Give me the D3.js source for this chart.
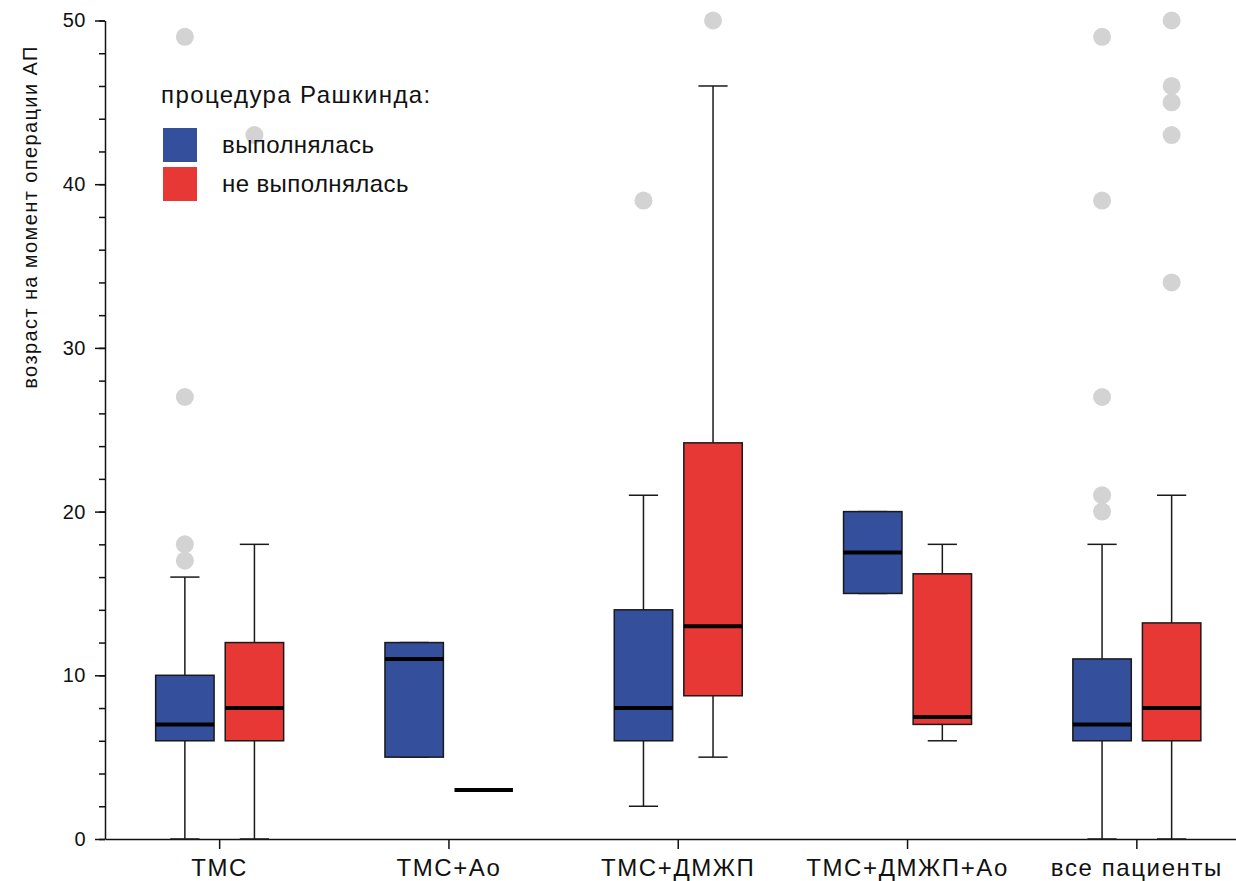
<!DOCTYPE html>
<html>
<head>
<meta charset="utf-8">
<script src="https://cdn.jsdelivr.net/npm/d3@7"></script>
<style>
  body { margin: 0; background: #fff; }
  text { font-family: "Liberation Sans", Arial, sans-serif; fill: #111; }
</style>
</head>
<body>
<div id="chart"></div>
<script>
// Data
var categories = ["ТМС", "ТМС+Ао", "ТМС+ДМЖП", "ТМС+ДМЖП+Ао", "все пациенты"];
var groups = ["выполнялась", "не выполнялась"];
// [min whisker, q1, median, q3, max whisker]
var performedStats = [[0, 6, 7, 10, 16], [5, 5, 11, 12, 12], [2, 6, 8, 14, 21], [15, 15, 17.5, 20, 20], [0, 6, 7, 11, 18]];
var notPerformedStats = [[0, 6, 8, 12, 18], [3, 3, 3, 3, 3], [5, 8.75, 13, 24.2, 46], [6, 7, 7.45, 16.2, 18], [0, 6, 8, 13.2, 21]];
var performedOutliers = [[17, 18, 27, 49], [], [39], [], [20, 21, 27, 39, 49]];
var notPerformedOutliers = [[43], [], [50], [], [34, 43, 45, 46, 50]];
var yTicks = [0, 10, 20, 30, 40, 50];

var W = 1236, H = 881;
var colors = ["#344f9c", "#e83836"];

var svg = d3.select("#chart").append("svg")
    .attr("width", W)
    .attr("height", H);

// Scales
var x = d3.scaleBand()
    .domain(categories)
    .range([105, 1251.5]);
var sub = d3.scaleBand()
    .domain(groups)
    .range([-64, 64])
    .paddingInner(0.16);
var y = d3.scaleLinear()
    .domain([0, 50])
    .range([839, 20.5]);

// Y axis: minor ticks every 2
svg.append("g")
    .attr("transform", "translate(105,0)")
    .call(d3.axisLeft(y).tickValues(d3.range(0, 51, 2)).tickSize(6).tickFormat(""))
    .call(g => g.select(".domain").remove())
    .selectAll("line").attr("stroke", "#111").attr("stroke-width", 1.5);

var yAxis = svg.append("g")
    .attr("transform", "translate(105,0)")
    .call(d3.axisLeft(y).tickValues(yTicks).tickSize(10).tickPadding(9).tickSizeOuter(0));
yAxis.select(".domain").attr("stroke", "#111").attr("stroke-width", 1.5);
yAxis.selectAll("line").attr("stroke", "#111").attr("stroke-width", 1.5);
yAxis.selectAll("text").style("font-size", "20px").style("letter-spacing", "0.5px").attr("fill", "#111");

// X axis
var xAxis = svg.append("g")
    .attr("transform", "translate(0,839)")
    .call(d3.axisBottom(x).tickSize(10).tickPadding(10).tickSizeOuter(0));
xAxis.select(".domain").attr("stroke", "#111").attr("stroke-width", 1.5);
xAxis.selectAll("line").attr("stroke", "#111").attr("stroke-width", 1.5);
xAxis.selectAll("text").style("font-size", "24px").style("letter-spacing", "1.6px").attr("fill", "#111");

// Y axis label
svg.append("text")
    .attr("transform", "translate(37,217) rotate(-90)")
    .attr("text-anchor", "middle")
    .style("font-size", "20px")
    .style("letter-spacing", "1.4px")
    .text("возраст на момент операции АП");

// Boxes
var series = [
    { stats: performedStats, outliers: performedOutliers },
    { stats: notPerformedStats, outliers: notPerformedOutliers }
];

series.forEach(function (s, gi) {
    var bw = sub.bandwidth();
    var rows = categories.map(function (c, i) {
        return { cat: c, st: s.stats[i], out: s.outliers[i] };
    });
    var g = svg.append("g").selectAll("g")
        .data(rows)
        .enter().append("g")
        .attr("transform", function (d) {
            return "translate(" + (x(d.cat) + x.bandwidth() / 2 + sub(groups[gi])) + ",0)";
        });

    // whiskers
    g.append("line")
        .attr("x1", bw / 2).attr("x2", bw / 2)
        .attr("y1", d => y(d.st[0])).attr("y2", d => y(d.st[4]))
        .attr("stroke", "#1a1a1a").attr("stroke-width", 1.5);
    [0, 4].forEach(function (k) {
        g.append("line")
            .attr("x1", bw / 4).attr("x2", bw * 3 / 4)
            .attr("y1", d => y(d.st[k])).attr("y2", d => y(d.st[k]))
            .attr("stroke", "#1a1a1a").attr("stroke-width", 1.5);
    });

    // box
    g.filter(d => d.st[3] > d.st[1]).append("rect")
        .attr("x", 0)
        .attr("width", bw)
        .attr("y", d => y(d.st[3]))
        .attr("height", d => y(d.st[1]) - y(d.st[3]))
        .attr("fill", colors[gi])
        .attr("stroke", "#1a1a1a")
        .attr("stroke-width", 1.5);

    // median
    g.append("line")
        .attr("x1", 0).attr("x2", bw)
        .attr("y1", d => y(d.st[2])).attr("y2", d => y(d.st[2]))
        .attr("stroke", "#000").attr("stroke-width", 4);

    // outliers
    g.selectAll("circle")
        .data(d => d.out)
        .enter().append("circle")
        .attr("cx", bw / 2)
        .attr("cy", d => y(d))
        .attr("r", 9)
        .attr("fill", "#d3d3d3");
});

// Legend
var legend = svg.append("g");
legend.append("text")
    .attr("x", 161)
    .attr("y", 103)
    .style("font-size", "24px")
    .style("letter-spacing", "1.4px")
    .text("процедура Рашкинда:");
groups.forEach(function (gname, i) {
    legend.append("rect")
        .attr("x", 163)
        .attr("y", 128 + i * 39)
        .attr("width", 34)
        .attr("height", 34)
        .attr("fill", colors[i]);
    legend.append("text")
        .attr("x", 222)
        .attr("y", 153 + i * 39)
        .style("font-size", "24px")
        .style("letter-spacing", "0.4px")
        .text(gname);
});
</script>
</body>
</html>
